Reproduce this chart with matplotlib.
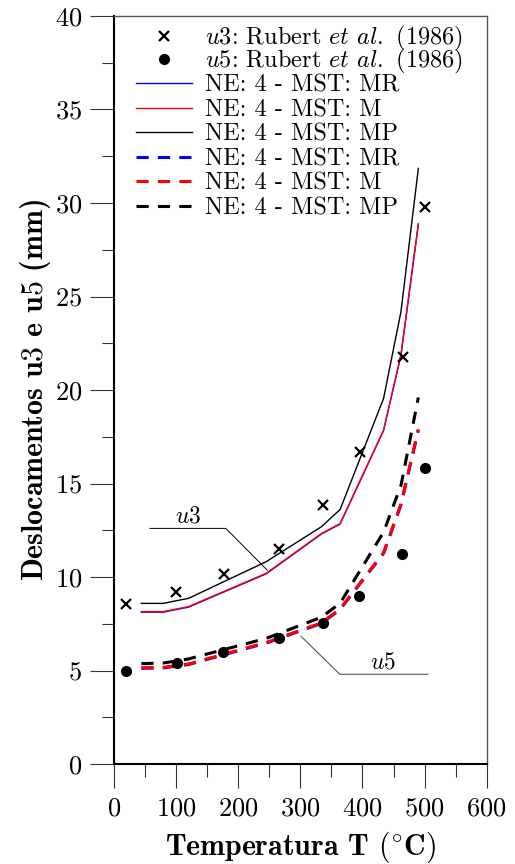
import matplotlib
matplotlib.use("Agg")
import matplotlib.pyplot as plt
from matplotlib.lines import Line2D
from matplotlib.ticker import MultipleLocator

plt.rcParams['font.family'] = 'serif'
plt.rcParams['font.serif'] = ['cmr10']
plt.rcParams['mathtext.fontset'] = 'cm'
plt.rcParams['axes.formatter.use_mathtext'] = True

# ensaio experimental (Rubert et al., 1986)
T_exp_u3 = [20, 100, 177, 266, 336, 396, 465, 500]
u3_exp = [8.55, 9.2, 10.15, 11.5, 13.85, 16.7, 21.75, 29.8]
T_exp_u5 = [19, 101, 176, 266, 336, 395, 464, 500]
u5_exp = [4.97, 5.38, 5.97, 6.76, 7.56, 9.0, 11.23, 15.85]

# resultados numericos
T_num = [44, 79, 120, 245, 334, 364, 434, 462, 490]
u3_MR = [8.12, 8.12, 8.39, 10.17, 12.30, 12.83, 17.83, 21.85, 28.85]
u3_M = [8.15, 8.15, 8.42, 10.20, 12.33, 12.86, 17.86, 21.90, 28.90]
u3_MP = [8.59, 8.59, 8.86, 10.82, 12.69, 13.61, 19.55, 24.19, 31.85]
u5_MR = [5.12, 5.14, 5.32, 6.47, 7.52, 8.27, 11.27, 13.86, 17.85]
u5_M = [5.15, 5.17, 5.35, 6.50, 7.55, 8.30, 11.30, 13.90, 17.90]
u5_MP = [5.37, 5.40, 5.62, 6.72, 7.85, 8.60, 12.40, 14.90, 19.60]

fig = plt.figure(figsize=(5.15, 8.64), dpi=100)
ax = fig.add_axes([0.2214, 0.1157, 0.7236, 0.8658])

dash = (0, (4, 3))
ax.plot(T_num, u3_MR, color='blue', lw=1.0)
ax.plot(T_num, u3_M, color='red', lw=1.0)
ax.plot(T_num, u3_MP, color='black', lw=1.0)
ax.plot(T_num, u5_MR, color='blue', lw=2.2, linestyle=dash)
ax.plot(T_num, u5_M, color='red', lw=2.2, linestyle=dash)
ax.plot(T_num, u5_MP, color='black', lw=2.2, linestyle=dash)

ax.plot(T_exp_u3, u3_exp, 'x', color='black', ms=6.5, mew=1.6)
ax.plot(T_exp_u5, u5_exp, 'o', color='black', ms=7)

# linhas de chamada
ax.plot([58, 180, 246.6], [12.6, 12.6, 10.37], color='black', lw=0.7)
ax.text(119.5, 13.25, r'$u3$', fontsize=17, ha='center', va='center')
ax.plot([300.8, 363.5, 505.6], [6.84, 4.8, 4.8], color='#555555', lw=0.8)
ax.text(433, 5.45, r'$u5$', fontsize=17, ha='center', va='center')

ax.set_xlim(0, 600)
ax.set_ylim(0, 40)
ax.xaxis.set_major_locator(MultipleLocator(100))
ax.xaxis.set_minor_locator(MultipleLocator(50))
ax.yaxis.set_major_locator(MultipleLocator(5))
ax.yaxis.set_minor_locator(MultipleLocator(2.5))
ax.tick_params(which='both', direction='out', colors='#333333', width=0.8, labelcolor='black', labelsize=19)
ax.tick_params(which='major', length=17.3)
ax.tick_params(which='minor', length=9)
ax.tick_params(axis='y', which='major', pad=5.5)
ax.tick_params(axis='x', which='major', pad=6.5)

for s in ['left', 'bottom']:
    ax.spines[s].set_linewidth(1.5)
    ax.spines[s].set_color('black')
for s in ['top', 'right']:
    ax.spines[s].set_linewidth(1.0)
    ax.spines[s].set_color('#555555')

ax.set_xlabel(r'Temperatura $\mathbf{T}$ $\mathbf{(}^{\circ}\mathbf{C)}$', fontfamily='cmb10', fontsize=21.5, labelpad=6)
ax.set_ylabel(r'Deslocamentos $\mathbf{u3}$ e $\mathbf{u5}$ (mm)', fontfamily='cmb10', fontsize=21.5, labelpad=1.5)

# legenda: dados experimentais e curvas numericas em duas caixas
exp_handles = [
    Line2D([], [], ls='none', marker='x', color='black', ms=6.5, mew=1.6),
    Line2D([], [], ls='none', marker='o', color='black', ms=7),
]
exp_labels = [
    r'$u3$: Rubert $et$ $al.$ (1986)',
    r'$u5$: Rubert $et$ $al.$ (1986)',
]
num_handles = [
    Line2D([], [], color='blue', lw=1.0),
    Line2D([], [], color='red', lw=1.0),
    Line2D([], [], color='black', lw=1.0),
    Line2D([], [], color='blue', lw=2.2, linestyle=dash),
    Line2D([], [], color='red', lw=2.2, linestyle=dash),
    Line2D([], [], color='black', lw=2.2, linestyle=dash),
]
num_labels = [
    'NE: 4 - MST: MR',
    'NE: 4 - MST: M',
    'NE: 4 - MST: MP',
    'NE: 4 - MST: MR',
    'NE: 4 - MST: M',
    'NE: 4 - MST: MP',
]
leg_opts = dict(loc='upper left', frameon=False, fontsize=17.5, borderpad=0,
                borderaxespad=0, handlelength=2.3, handletextpad=0.55)
leg1 = ax.legend(exp_handles, exp_labels, bbox_to_anchor=(0.059, 0.989),
                 labelspacing=-0.28, **leg_opts)
ax.add_artist(leg1)
ax.legend(num_handles, num_labels, bbox_to_anchor=(0.059, 0.922),
          labelspacing=0.1, **leg_opts)

fig.savefig('out.png', dpi=100)
